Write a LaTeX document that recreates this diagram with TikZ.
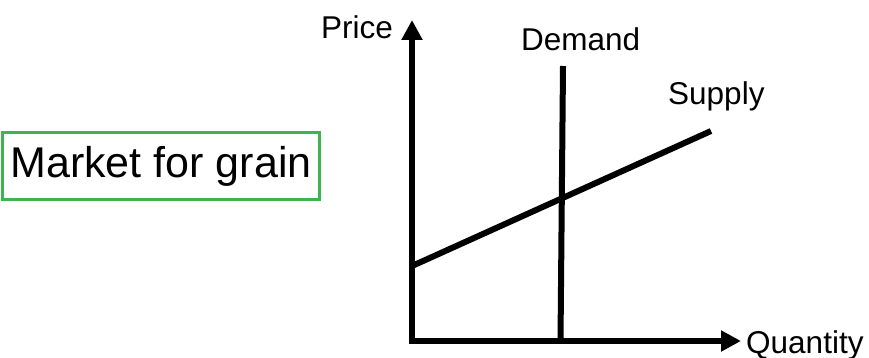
\documentclass[tikz,border=0pt]{standalone}
\usepackage{fontspec}
\setmainfont{Liberation Sans}
\usetikzlibrary{arrows.meta}
\definecolor{boxgreen}{RGB}{64,180,76}
\begin{document}
\begin{tikzpicture}[x=1pt,y=-1pt,
  axisline/.style={line width=5.5pt,-{Triangle[width=20pt,length=20pt]}},
  curve/.style={line width=6pt},
  lbl/.style={font=\fontsize{31.5}{36}\selectfont,inner sep=0pt,anchor=base west},
  titlebox/.style={draw=boxgreen,line width=3pt,minimum width=317pt,minimum height=67pt,inner sep=0pt,font=\fontsize{43}{48}\selectfont}]
\useasboundingbox (0,0) rectangle (869,358);
% axes
\coordinate (O) at (412,341);
\coordinate (ytip) at (412,20);
\coordinate (xtip) at (741,341);
\draw[axisline] (412,343.75) -- (ytip);
\draw[axisline] (409.25,341) -- (xtip);
% curves
\coordinate (S1) at (412,266);
\coordinate (S2) at (711,131);
\coordinate (D1) at (560.5,341);
\coordinate (D2) at (563,66);
\draw[curve] (S1) -- (S2);
\draw[curve] (D1) -- (D2);
% labels
\node[lbl] (price) at (321,39) {Price};
\node[lbl] (demand) at (521,51) {Demand};
\node[lbl] (supply) at (668,105) {Supply};
\node[lbl] (quantity) at (746,353) {Quantity};
\node[titlebox] (market) at (161,166) {Market for grain};
\end{tikzpicture}
\end{document}
